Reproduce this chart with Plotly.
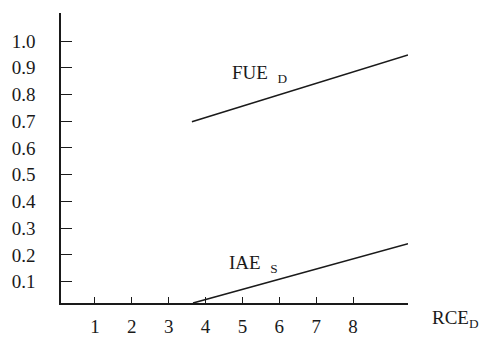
import plotly.graph_objects as go

# Efficiency curves against RCE_D
fue_x = [3.63, 9.49]
fue_y = [0.698, 0.948]
iae_x = [3.66, 9.49]
iae_y = [0.02, 0.242]

x_ticks = [1, 2, 3, 4, 5, 6, 7, 8]
y_ticks = [0.1, 0.2, 0.3, 0.4, 0.5, 0.6, 0.7, 0.8, 0.9, 1.0]
y_labels = ["0.1", "0.2", "0.3", "0.4", "0.5", "0.6", "0.7", "0.8", "0.9", "1.0"]

FONT = "Liberation Serif, Times New Roman, serif"

fig = go.Figure()
fig.add_trace(go.Scatter(x=fue_x, y=fue_y, mode="lines",
                         line=dict(color="#1a1a1a", width=1.6), showlegend=False))
fig.add_trace(go.Scatter(x=iae_x, y=iae_y, mode="lines",
                         line=dict(color="#1a1a1a", width=1.6), showlegend=False))

fig.add_annotation(x=4.66, y=0.877, xref="x", yref="y", text="FUE  <sub>D</sub>",
                   showarrow=False, xanchor="left", yanchor="middle",
                   font=dict(family=FONT, size=19, color="#1a1a1a"))
fig.add_annotation(x=4.58, y=0.167, xref="x", yref="y", text="IAE  <sub>S</sub>",
                   showarrow=False, xanchor="left", yanchor="middle",
                   font=dict(family=FONT, size=19, color="#1a1a1a"))
fig.add_annotation(x=1.063, y=-0.055, xref="paper", yref="paper", text="RCE<sub>D</sub>",
                   showarrow=False, xanchor="left", yanchor="middle",
                   font=dict(family=FONT, size=19, color="#1a1a1a"))

fig.update_layout(
    width=484, height=337,
    margin=dict(l=61, r=76, t=13, b=34, autoexpand=False),
    paper_bgcolor="white", plot_bgcolor="white",
    font=dict(family=FONT, size=19, color="#1a1a1a"),
    xaxis=dict(range=[0.08, 9.49], tickvals=x_ticks, ticktext=[str(v) for v in x_ticks],
               ticks="inside", ticklen=6, tickwidth=1.3, tickcolor="#1a1a1a",
               showline=True, linecolor="#1a1a1a", linewidth=1.5, automargin=False,
               showgrid=False, zeroline=False, ticklabelstandoff=5),
    yaxis=dict(range=[0.02, 1.105], tickvals=y_ticks, ticktext=y_labels,
               ticks="inside", ticklen=11, tickwidth=1.3, tickcolor="#1a1a1a",
               showline=True, linecolor="#1a1a1a", linewidth=1.5, automargin=False,
               showgrid=False, zeroline=False, ticklabelstandoff=20),
)

fig.write_html("out.html")
